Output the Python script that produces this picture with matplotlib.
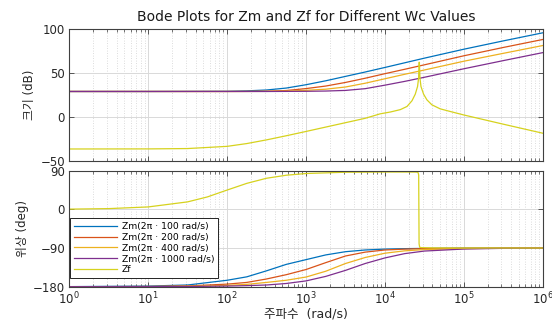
import numpy as np
import matplotlib
matplotlib.use("Agg")
import matplotlib.pyplot as plt
from matplotlib.ticker import LogLocator, NullFormatter, FixedLocator

plt.rcParams['font.family'] = ['DejaVu Sans', 'Noto Sans CJK KR']

# ---- data ----
# frequency grid (rad/s), as log10 exponents
zm_logw = [0, 1, 1.5, 2, 2.25, 2.5, 2.75, 3, 3.25, 3.5, 3.75, 4, 4.25, 4.5, 5, 5.5, 6]

zm100_mag = [29.3, 29.3, 29.4, 29.5, 30.0, 31.0, 33.2, 37.0, 41.5, 46.5, 51.5, 56.7, 62.0, 67.3, 77.5, 87.0, 96.2]
zm200_mag = [29.3, 29.3, 29.3, 29.3, 29.4, 29.6, 30.4, 32.6, 35.5, 39.6, 44.4, 49.6, 54.6, 59.7, 70.0, 79.5, 88.6]
zm400_mag = [29.3, 29.3, 29.3, 29.3, 29.3, 29.4, 29.7, 30.6, 31.9, 34.4, 38.7, 43.8, 48.9, 53.8, 63.8, 72.8, 81.7]
zm1000_mag = [29.3, 29.3, 29.3, 29.3, 29.3, 29.3, 29.4, 29.5, 29.8, 30.5, 32.5, 36.5, 40.8, 45.5, 55.2, 64.5, 73.6]

zm100_ph = [-179.8, -178.5, -176, -165, -157, -143, -128, -117, -106, -98.5, -94.5, -92.5, -91.4, -90.8, -90.2, -90, -90]
zm200_ph = [-180, -179.4, -178.2, -174, -170, -162, -152, -140, -124, -108.5, -99.5, -94.5, -92.5, -91.3, -90.4, -90.1, -90]
zm400_ph = [-180, -179.7, -179, -177, -174.5, -170, -165, -157.5, -144, -126, -112, -102, -96.5, -93.5, -91.2, -90.4, -90]
zm1000_ph = [-180, -179.9, -179.5, -178.5, -177.5, -176, -172.5, -166.5, -156, -142, -126, -113, -103, -97, -92.3, -90.7, -90.2]

zf_mag_logw = [0, 1, 1.5, 2, 2.25, 2.5, 2.75, 3, 3.25, 3.5, 3.75, 3.94, 4.07, 4.195, 4.28, 4.343,
               4.385, 4.414, 4.427, 4.433, 4.437, 4.444, 4.457, 4.49, 4.532, 4.595, 4.7, 4.827, 5.0, 5.5, 6]
zf_mag = [-36.3, -36.2, -35.8, -33.3, -30.1, -25.9, -21.2, -16.3, -11.3, -6.3, -1.3, 3.8, 5.9, 8.6, 12.2, 18.7,
          26.3, 35.1, 44.7, 62.6, 62.6, 44.7, 35.0, 26.3, 19.8, 14.1, 9.5, 6.5, 2.5, -8.0, -18.3]

zf_ph_logw = [0, 0.5, 1, 1.5, 1.75, 2, 2.25, 2.5, 2.75, 3, 3.5, 4, 4.3, 4.4, 4.42, 4.428, 4.433, 4.44, 4.46, 4.6, 5, 6]
zf_ph = [0.6, 1.8, 5.7, 17.5, 29, 45, 60.6, 72.5, 79.5, 83.5, 86.5, 87.0, 87.0, 86.8, 86, 80, -80, -88, -89, -89.6, -89.9, -90]

labels = ['Zm(2π · 100 rad/s)', 'Zm(2π · 200 rad/s)', 'Zm(2π · 400 rad/s)',
          'Zm(2π · 1000 rad/s)', 'Zf']
colors = ['#0072BD', '#D95319', '#EDB120', '#7E2F8E', '#D6D21E']

title = 'Bode Plots for Zm and Zf for Different Wc Values'
ylabel_mag = '크기 (dB)'
ylabel_ph = '위상 (deg)'
xlabel = '주파수  (rad/s)'

# ---- figure ----
fig = plt.figure(figsize=(5.52, 3.22), dpi=100)
ax1 = fig.add_axes([0.1255, 0.500, 0.8577, 0.4084])
ax2 = fig.add_axes([0.1255, 0.1096, 0.8577, 0.3602])

w_zm = np.power(10.0, zm_logw)
w_zf_mag = np.power(10.0, zf_mag_logw)
w_zf_ph = np.power(10.0, zf_ph_logw)

lw = 0.9
for mag, c in zip([zm100_mag, zm200_mag, zm400_mag, zm1000_mag], colors[:4]):
    ax1.plot(w_zm, mag, color=c, lw=lw)
ax1.plot(w_zf_mag, zf_mag, color=colors[4], lw=lw)

for ph, c, lab in zip([zm100_ph, zm200_ph, zm400_ph, zm1000_ph], colors[:4], labels[:4]):
    ax2.plot(w_zm, ph, color=c, lw=lw, label=lab)
ax2.plot(w_zf_ph, zf_ph, color=colors[4], lw=lw, label=labels[4])

axis_col = '#404040'
for ax in (ax1, ax2):
    ax.set_xscale('log')
    ax.set_xlim(1, 1e6)
    ax.xaxis.set_major_locator(LogLocator(base=10, numticks=10))
    ax.xaxis.set_minor_locator(LogLocator(base=10, subs=np.arange(2, 10), numticks=20))
    ax.xaxis.set_minor_formatter(NullFormatter())
    ax.grid(True, which='major', color='#d9d9d9', lw=0.7, ls='-')
    ax.grid(True, which='minor', axis='x', color='#d0d0d0', lw=0.6, ls=(0, (1, 2)))
    ax.set_axisbelow(True)
    ax.tick_params(which='both', direction='in', top=True, right=True, color=axis_col,
                   labelcolor='#262626', labelsize=8.5)
    ax.tick_params(which='major', length=3.5, width=0.6, pad=3)
    ax.tick_params(which='minor', length=2, width=0.5)
    for s in ax.spines.values():
        s.set_color(axis_col)
        s.set_linewidth(0.8)

ax1.set_ylim(-50, 100)
ax1.yaxis.set_major_locator(FixedLocator([-50, 0, 50, 100]))
ax1.tick_params(labelbottom=False)
ax2.set_ylim(-180, 90)
ax2.yaxis.set_major_locator(FixedLocator([-180, -90, 0, 90]))

ax1.set_title(title, fontsize=10, color='#1a1a1a', pad=6)
ax1.set_ylabel(ylabel_mag, fontsize=8.5, color='#262626', labelpad=3)
ax2.set_ylabel(ylabel_ph, fontsize=8.5, color='#262626', labelpad=3)
ax2.set_xlabel(xlabel, fontsize=9, color='#262626', labelpad=0)

leg = ax2.legend(loc='upper left', bbox_to_anchor=(0.0015, 0.59), borderaxespad=0,
                 fontsize=6.7, handlelength=4.6, handletextpad=0.55, borderpad=0.4,
                 labelspacing=0.2, fancybox=False, framealpha=1, edgecolor='black')
leg.get_frame().set_linewidth(0.6)

fig.savefig('out.png', dpi=100)
